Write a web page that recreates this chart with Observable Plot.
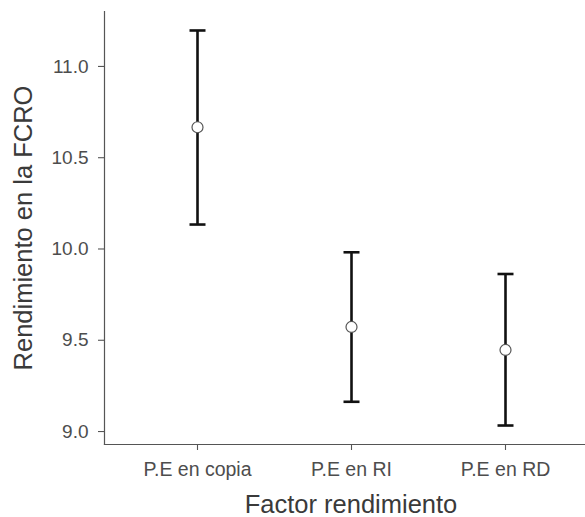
<!DOCTYPE html>
<html>
<head>
<meta charset="utf-8">
<script src="https://cdn.jsdelivr.net/npm/d3@7"></script>
<script src="https://cdn.jsdelivr.net/npm/@observablehq/plot@0.6"></script>
<style>
  html, body { margin: 0; padding: 0; background: #fff; overflow: hidden; }
  #chart svg { display: block; }
</style>
</head>
<body>
<div id="chart"></div>
<script>
const categories = ["P.E en copia", "P.E en RI", "P.E en RD"];
const means = [10.656, 9.562, 9.436];
const lower = [10.123, 9.152, 9.022];
const upper = [11.186, 9.971, 9.852];
const yTicks = [9.0, 9.5, 10.0, 10.5, 11.0];
const xTitle = "Factor rendimiento";
const yTitle = "Rendimiento en la FCRO";

const data = categories.map((c, i) => ({cat: c, mean: means[i], lo: lower[i], hi: upper[i]}));

const font = "'Liberation Sans', Arial, Helvetica, sans-serif";

// horizontal cap symbol for the error bar ends
const capSymbol = {
  draw(context, size) {
    const w = Math.sqrt(size / Math.PI);
    context.moveTo(-w, 0);
    context.lineTo(w, 0);
  }
};

const chart = Plot.plot({
  width: 585,
  height: 517,
  marginLeft: 104,
  marginRight: -12,
  marginTop: 11,
  marginBottom: 73,
  style: {fontFamily: font, background: "#fff", overflow: "hidden"},
  x: {type: "point", domain: categories, padding: 0.6},
  y: {domain: [8.918, 11.29]},
  marks: [
    Plot.axisY({ticks: yTicks, tickFormat: d3.format(".1f"), tickSize: 6, tickPadding: 10,
      fontSize: 19, color: "#4d4d4d", stroke: "#555", strokeWidth: 1.1, label: null, dy: 2}),
    Plot.axisX({tickSize: 6, tickPadding: 12, fontSize: 19.5, color: "#4d4d4d",
      stroke: "#555", strokeWidth: 1.1, label: null}),
    Plot.frame({anchor: "left", stroke: "#555", strokeWidth: 1.2}),
    Plot.frame({anchor: "bottom", stroke: "#555", strokeWidth: 1.2}),
    Plot.ruleX(data, {x: "cat", y1: "lo", y2: "hi", stroke: "#111", strokeWidth: 2.6}),
    Plot.dot(data, {x: "cat", y: "hi", symbol: capSymbol, r: 8, fill: "none", stroke: "#111", strokeWidth: 2.6}),
    Plot.dot(data, {x: "cat", y: "lo", symbol: capSymbol, r: 8, fill: "none", stroke: "#111", strokeWidth: 2.6}),
    Plot.dot(data, {x: "cat", y: "mean", r: 5.5, fill: "#fff", stroke: "#555", strokeWidth: 1.2}),
    Plot.text([xTitle], {frameAnchor: "bottom", dy: 60, fontSize: 25.5, fill: "#3a3a3a", lineAnchor: "middle", textAnchor: "middle"}),
    Plot.text([yTitle], {frameAnchor: "left", rotate: -90, dx: -81, fontSize: 25.5, fill: "#3a3a3a", lineAnchor: "middle", textAnchor: "middle"})
  ]
});
document.getElementById("chart").appendChild(chart);
</script>
</body>
</html>
